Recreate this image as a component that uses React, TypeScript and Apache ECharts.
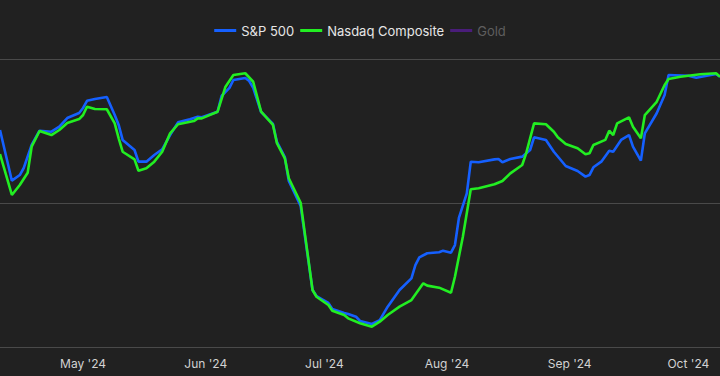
import React, { useEffect, useRef } from "react";
import * as echarts from "echarts";

const spDates = [
  "2024-04-10","2024-04-13","2024-04-15","2024-04-16","2024-04-18","2024-04-20","2024-04-23","2024-04-25","2024-04-27","2024-04-30",
  "2024-05-01","2024-05-02","2024-05-04","2024-05-07","2024-05-09","2024-05-10","2024-05-11","2024-05-14","2024-05-15","2024-05-17",
  "2024-05-19","2024-05-21","2024-05-23","2024-05-25","2024-05-28","2024-05-30","2024-05-31","2024-06-04","2024-06-05","2024-06-07",
  "2024-06-08","2024-06-11","2024-06-12","2024-06-13","2024-06-15","2024-06-18","2024-06-19","2024-06-21","2024-06-22","2024-06-25",
  "2024-06-28","2024-06-29","2024-07-02","2024-07-03","2024-07-06","2024-07-07","2024-07-09","2024-07-10","2024-07-13","2024-07-15",
  "2024-07-17","2024-07-20","2024-07-23","2024-07-24","2024-07-25","2024-07-27","2024-07-30","2024-07-31","2024-08-02","2024-08-03",
  "2024-08-04","2024-08-06","2024-08-07","2024-08-09","2024-08-13","2024-08-14","2024-08-15","2024-08-17","2024-08-20","2024-08-22",
  "2024-08-23","2024-08-26","2024-08-28","2024-08-31","2024-09-03","2024-09-05","2024-09-06","2024-09-07","2024-09-09","2024-09-11",
  "2024-09-12","2024-09-14","2024-09-16","2024-09-17","2024-09-19","2024-09-20","2024-09-23","2024-09-25","2024-09-26","2024-10-01",
  "2024-10-03","2024-10-08","2024-10-09"
];
const spValues = [
  5.07,1.55,1.94,2.43,4.03,5.02,4.95,5.30,5.90,6.25,
  6.60,7.10,7.22,7.36,6.11,5.42,4.38,3.68,2.87,2.87,
  3.33,3.73,4.72,5.60,5.81,5.99,5.95,6.34,7.43,7.99,
  8.54,8.68,8.47,7.99,6.32,5.49,4.24,3.19,1.53,-0.21,
  -6.04,-6.46,-6.94,-7.36,-7.64,-7.71,-7.90,-8.19,-8.40,-8.13,
  -7.20,-6.04,-5.23,-4.31,-3.77,-3.49,-3.42,-3.31,-3.45,-2.92,
  -1.04,0.67,2.87,2.83,3.03,3.06,2.83,3.06,3.22,3.68,
  4.56,4.38,3.56,2.57,2.22,1.83,1.94,2.48,2.87,3.63,
  3.56,4.38,4.72,3.91,2.94,4.84,6.23,7.50,8.89,8.84,
  8.70,8.96,8.77
];

const nqDates = [
  "2024-04-10","2024-04-13","2024-04-15","2024-04-17","2024-04-18","2024-04-20","2024-04-23","2024-04-25","2024-04-27","2024-04-30",
  "2024-05-01","2024-05-02","2024-05-04","2024-05-07","2024-05-09","2024-05-10","2024-05-11","2024-05-14","2024-05-15","2024-05-17",
  "2024-05-19","2024-05-21","2024-05-23","2024-05-25","2024-05-29","2024-05-30","2024-05-31","2024-06-04","2024-06-06","2024-06-08",
  "2024-06-11","2024-06-13","2024-06-15","2024-06-18","2024-06-19","2024-06-21","2024-06-22","2024-06-25","2024-06-28","2024-06-29",
  "2024-07-02","2024-07-03","2024-07-06","2024-07-07","2024-07-10","2024-07-13","2024-07-15","2024-07-17","2024-07-20","2024-07-23",
  "2024-07-26","2024-07-27","2024-07-30","2024-08-02","2024-08-03","2024-08-05","2024-08-07","2024-08-09","2024-08-13","2024-08-15",
  "2024-08-17","2024-08-20","2024-08-21","2024-08-23","2024-08-26","2024-08-28","2024-08-29","2024-08-31","2024-09-03","2024-09-05",
  "2024-09-06","2024-09-07","2024-09-10","2024-09-11","2024-09-12","2024-09-13","2024-09-16","2024-09-17","2024-09-19","2024-09-20",
  "2024-09-23","2024-09-25","2024-09-26","2024-09-29","2024-10-01","2024-10-04","2024-10-08","2024-10-09"
];
const nqValues = [
  3.40,0.56,1.25,2.10,3.91,5.00,4.72,5.07,5.56,5.83,
  6.11,6.69,6.53,6.51,5.53,4.49,3.56,3.03,2.24,2.41,
  2.87,3.56,4.84,5.47,5.69,5.88,5.88,6.34,8.08,8.89,
  9.01,8.42,6.34,5.42,4.15,3.10,1.72,0.02,-6.04,-6.51,
  -7.08,-7.48,-7.78,-8.01,-8.35,-8.59,-8.24,-7.78,-7.20,-6.74,
  -5.58,-5.74,-5.88,-6.23,-5.12,-2.34,0.95,1.02,1.30,1.53,
  2.06,2.64,3.45,5.53,5.47,4.95,4.56,4.10,3.80,3.38,
  3.45,4.03,4.38,5.02,4.72,5.53,5.95,5.30,4.49,6.11,
  7.03,8.19,8.61,8.77,8.84,8.94,9.01,8.77
];

const goldDates: string[] = [];
const goldValues: number[] = [];

const seriesNames = ["S&P 500", "Nasdaq Composite", "Gold"];
const monthNames = ["Jan","Feb","Mar","Apr","May","Jun","Jul","Aug","Sep","Oct","Nov","Dec"];
const xStart = "2024-04-10";
const xEnd = "2024-10-09";

const zip = (d: string[], v: number[]) => d.map((x, i) => [x, v[i]]);

export default function App() {
  const ref = useRef<HTMLDivElement>(null);
  useEffect(() => {
    if (!ref.current) return;
    const chart = echarts.init(ref.current, null, { renderer: "svg" });
    const font = "Inter, 'Noto Sans', sans-serif";
    chart.setOption({
      animation: false,
      backgroundColor: "#212121",
      textStyle: { fontFamily: font },
      legend: {
        top: 19,
        left: "center",
        icon: "rect",
        itemWidth: 22,
        itemHeight: 3,
        itemGap: 6,
        textStyle: { color: "#e6e6e6", fontSize: 13, fontFamily: font },
        data: [
          { name: seriesNames[0] },
          { name: seriesNames[1] },
          { name: seriesNames[2], textStyle: { color: "#5e5e5e" } },
        ],
      },
      grid: { left: 0, right: 0, top: 59, bottom: 29, containLabel: false },
      xAxis: {
        type: "time",
        min: xStart,
        max: xEnd,
        boundaryGap: false,
        minInterval: 28 * 86400000,
        maxInterval: 31 * 86400000,
        axisLine: { show: false },
        axisTick: { show: false },
        splitLine: { show: false },
        axisLabel: {
          color: "#d2d2d2",
          fontSize: 12,
          fontFamily: font,
          margin: 10,
          showMinLabel: false,
          showMaxLabel: false,
          formatter: (val: number) => {
            const d = new Date(val);
            return monthNames[d.getMonth()] + " '" + String(d.getFullYear()).slice(2);
          },
        },
      },
      yAxis: {
        type: "value",
        min: -10,
        max: 10,
        interval: 10,
        axisLabel: { show: false },
        axisLine: { show: false },
        axisTick: { show: false },
        splitLine: { show: true, lineStyle: { color: "#4a4a4a", width: 1 } },
      },
      series: [
        {
          name: seriesNames[0],
          type: "line",
          data: zip(spDates, spValues),
          symbol: "none",
          color: "#1560ff",
          lineStyle: { width: 2.6, color: "#1560ff" },
        },
        {
          name: seriesNames[1],
          type: "line",
          data: zip(nqDates, nqValues),
          symbol: "none",
          color: "#22ee22",
          lineStyle: { width: 2.6, color: "#22ee22" },
        },
        {
          name: seriesNames[2],
          type: "line",
          data: zip(goldDates, goldValues),
          symbol: "none",
          color: "#4a1d7a",
          lineStyle: { width: 2.6, color: "#4a1d7a" },
        },
      ],
    });
    return () => chart.dispose();
  }, []);
  return (
    <div
      ref={ref}
      style={{ position: "fixed", left: 0, top: 0, width: 720, height: 376 }}
    />
  );
}
